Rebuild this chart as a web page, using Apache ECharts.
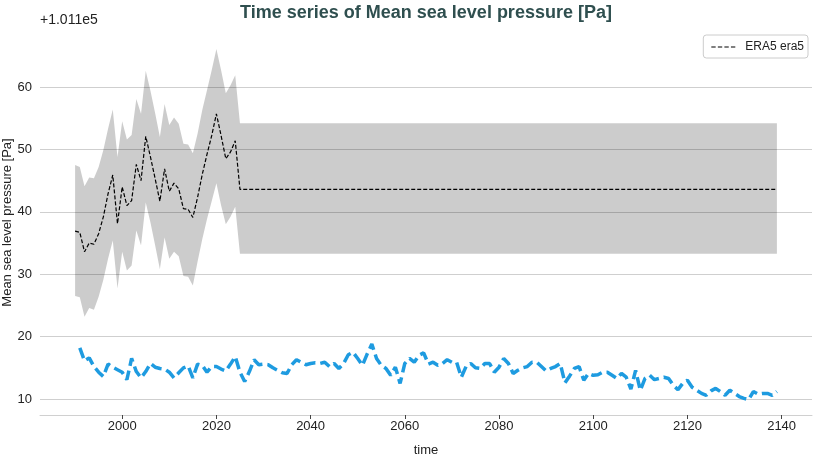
<!DOCTYPE html>
<html><head><meta charset="utf-8">
<script src="https://cdn.jsdelivr.net/npm/echarts@6/dist/echarts.min.js"></script>
<style>html,body{margin:0;padding:0;background:#fff}#c{width:816px;height:455px}</style>
</head><body><div id="c"></div>
<script>
const eraYears = [1990,1991,1992,1993,1994,1995,1996,1997,1998,1999,2000,2001,2002,2003,2004,2005,2006,2007,2008,2009,2010,2011,2012,2013,2014,2015,2016,2017,2018,2019,2020,2021,2022,2023,2024,2025,2139];
const eraMean = [36.9,36.7,33.6,35.0,34.8,36.5,39.2,42.9,45.9,38.1,44.0,41.0,41.8,47.6,45.0,52.1,48.8,45.3,41.7,46.9,43.3,44.6,43.7,40.5,40.4,39.1,42.3,46.0,49.2,52.2,55.7,52.2,48.5,49.6,51.4,43.6,43.6];
const eraUpper = [47.5,47.2,44.1,45.5,45.4,47.2,49.9,53.3,56.4,48.8,54.5,51.6,52.3,58.1,55.7,62.6,59.4,55.8,52.0,57.3,53.9,55.1,54.1,50.9,50.8,49.4,52.5,56.3,59.5,62.7,66.1,62.7,59.0,60.3,61.9,54.2,54.2];
const eraLower = [26.5,26.3,23.2,24.6,24.3,26.4,29.1,32.5,35.4,27.7,33.6,30.6,31.4,37.0,34.6,41.5,38.3,34.6,30.8,35.9,32.5,33.6,32.9,29.7,29.6,28.2,32.0,35.6,38.8,41.7,44.6,41.0,38.0,39.2,40.8,33.3,33.3];
const modelStartYear = 1991;
const modelValues = [
18.2,16.1,16.6,15.2,14.3,13.6,15.6,15.1,14.7,14.3,
13.1,16.5,14.4,13.4,14.4,15.7,15.1,14.9,14.8,14.3,
13.4,14.2,15.0,15.3,13.4,15.6,15.4,14.3,15.2,15.2,
14.8,14.5,15.6,16.8,14.3,12.8,14.4,16.3,15.5,15.6,
15.5,15.0,14.6,14.2,14.1,15.5,16.3,15.9,15.5,15.7,
15.8,15.7,15.9,15.2,15.7,14.9,15.7,17.1,17.5,16.5,
15.4,17.2,18.8,16.5,15.4,14.9,13.8,15.1,12.5,15.7,
16.5,15.9,17.0,17.4,15.6,15.9,15.4,15.7,16.3,15.9,
15.9,13.5,15.2,15.7,15.0,14.9,15.7,15.7,14.3,15.1,
16.5,15.7,14.1,14.6,15.0,15.2,15.9,15.9,15.2,14.5,
14.9,15.2,15.7,12.6,13.7,14.9,15.2,13.0,14.1,13.8,
13.9,14.3,14.3,13.8,13.3,14.1,13.5,11.6,14.6,11.4,
13.3,13.8,13.1,13.3,13.5,13.3,12.2,11.5,12.5,13.0,
11.9,11.4,10.9,10.6,11.3,11.7,11.2,10.6,11.4,10.9,
10.4,10.1,9.9,11.2,10.8,10.9,10.9,10.6,11.2];
const xTicks = [2000,2020,2040,2060,2080,2100,2120,2140];
const yTicks = [10,20,30,40,50,60];
const offsetText = '+1.011e5';
const titleText = 'Time series of Mean sea level pressure [Pa]';
const legendName = 'ERA5 era5';

const FONT = 'Liberation Sans, Arial, sans-serif';
const chart = echarts.init(document.getElementById('c'), null, {renderer: 'canvas'});
const bandData = eraYears.map((y, i) => [y, eraLower[i], eraUpper[i]]);
const meanData = eraYears.map((y, i) => [y, eraMean[i]]);
const modelData = modelValues.map((v, i) => [modelStartYear + i, v]);

chart.setOption({
  animation: false,
  backgroundColor: '#fff',
  title: {
    text: titleText, left: 421, top: -1, textAlign: 'center',
    textStyle: {fontFamily: FONT, fontSize: 18, fontWeight: 'bold', color: '#2f4f4f'}
  },
  graphic: [{
    type: 'text', left: 40, top: 13,
    style: {text: offsetText, fontFamily: FONT, fontSize: 14, fill: '#222'}
  }],
  legend: {
    data: [{name: legendName, icon: 'path://M0,0h4v1h-4z M6,0h4v1h-4z M12,0h4v1h-4z M18,0h4v1h-4z'}],
    right: 8, top: 35,
    borderColor: '#ccc', borderWidth: 1, borderRadius: 3, padding: [6, 4, 5, 8],
    itemWidth: 24, itemHeight: 1.3, itemGap: 6,
    itemStyle: {color: '#000'},
    textStyle: {fontFamily: FONT, fontSize: 12, color: '#222', padding: [0, 0, 0, 5]}
  },
  grid: {left: 40, right: 4, top: 30, bottom: 40, containLabel: false, outerBoundsMode: 'none'},
  xAxis: {
    type: 'value', min: 1982.55, max: 2146.45,
    name: 'time', nameLocation: 'middle', nameGap: 29, nameMoveOverlap: false,
    nameTextStyle: {fontFamily: FONT, fontSize: 13, color: '#222'},
    axisLine: {show: true, lineStyle: {color: '#d0d0d0', width: 1}},
    axisTick: {show: true, customValues: xTicks, length: 4, lineStyle: {color: '#444'}},
    axisLabel: {customValues: xTicks, formatter: v => String(v), fontFamily: FONT, fontSize: 13, color: '#222', margin: 5},
    splitLine: {show: false}
  },
  yAxis: {
    type: 'value', min: 7.44, max: 69.14,
    name: 'Mean sea level pressure [Pa]', nameLocation: 'middle', nameGap: 26, nameRotate: 90, nameMoveOverlap: false,
    nameTextStyle: {fontFamily: FONT, fontSize: 13, color: '#222'},
    axisLine: {show: false},
    axisTick: {show: false, customValues: yTicks},
    axisLabel: {customValues: yTicks, formatter: v => String(v), fontFamily: FONT, fontSize: 13, color: '#222', margin: 8},
    splitLine: {show: true, lineStyle: {color: '#cfcfcf', width: 1}}
  },
  series: [
    {
      name: 'band', type: 'custom', data: bandData, silent: true, z: 2,
      encode: {x: 0, y: [1, 2]},
      renderItem: (params, api) => {
        if (params.dataIndex !== 0) return null;
        const pts = [];
        for (let i = 0; i < bandData.length; i++) pts.push(api.coord([bandData[i][0], bandData[i][2]]));
        for (let i = bandData.length - 1; i >= 0; i--) pts.push(api.coord([bandData[i][0], bandData[i][1]]));
        return {type: 'polygon', shape: {points: pts}, style: {fill: 'rgba(0,0,0,0.2)'}};
      }
    },
    {
      name: legendName, type: 'line', data: meanData, symbol: 'none',
      lineStyle: {color: '#000', width: 1.2, type: [4, 2]}, itemStyle: {color: '#000'}, z: 3
    },
    {
      name: 'model', type: 'line', data: modelData, symbol: 'none',
      lineStyle: {color: '#1e9be0', width: 3.5, type: [11, 5]}, z: 4
    }
  ]
});
</script></body></html>
